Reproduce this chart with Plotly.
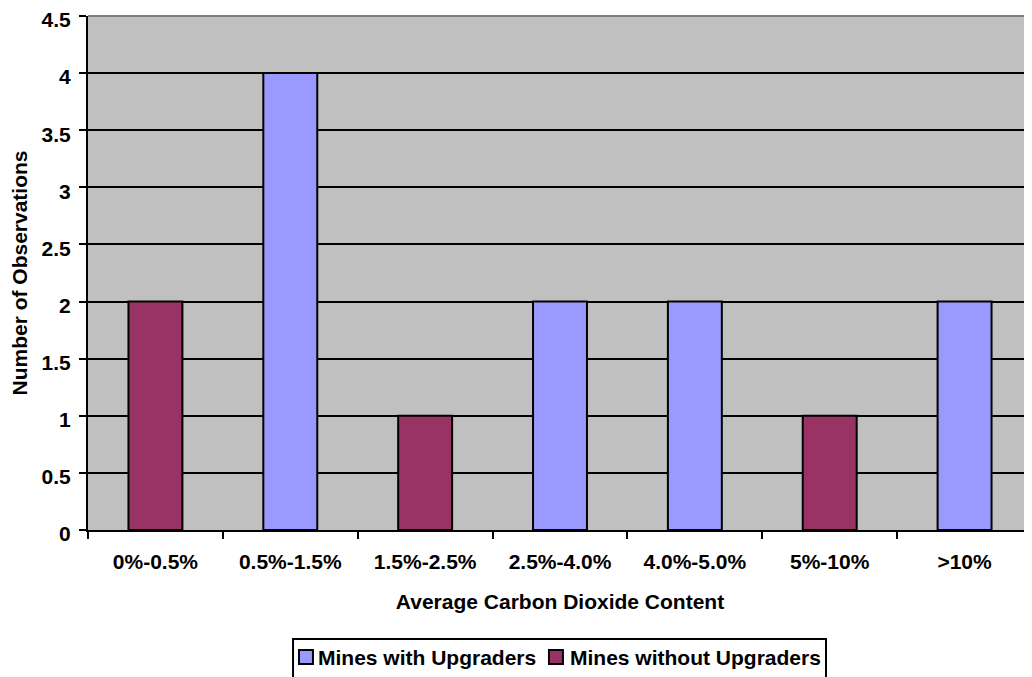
import plotly.graph_objects as go

categories = ["0%-0.5%", "0.5%-1.5%", "1.5%-2.5%", "2.5%-4.0%", "4.0%-5.0%", "5%-10%", ">10%"]
series_names = ["Mines with Upgraders", "Mines without Upgraders"]
with_upgraders = [None, 4, None, 2, 2, None, 2]
without_upgraders = [2, None, 1, None, None, 1, None]
series_colors = ["#9999FF", "#993366"]

FAM = "Liberation Sans, Arial, sans-serif"
SZ = 21

fig = go.Figure()
for name, vals, col in zip(series_names, [with_upgraders, without_upgraders], series_colors):
    fig.add_trace(go.Bar(x=categories, y=vals, name=name, showlegend=False,
                         marker=dict(color=col, line=dict(color="black", width=2)), width=0.4))

# page body has an 8px default margin, so the figure is offset by 8px
fig.update_layout(
    width=1024, height=669,
    margin=dict(l=80, r=0, t=8, b=147),
    paper_bgcolor="white", plot_bgcolor="#C0C0C0",
    barmode="overlay",
    font=dict(family=FAM, size=SZ, color="black"),
    showlegend=False,
    xaxis=dict(type="category", tickson="boundaries", ticks="outside", ticklen=7, tickwidth=2,
               tickcolor="black", showline=True, linecolor="black", linewidth=2,
               showgrid=False, automargin=False, ticklabelstandoff=12,
               tickfont=dict(size=SZ, family=FAM, weight="bold"),
               title=dict(text="<b>Average Carbon Dioxide Content</b>", standoff=22,
                          font=dict(size=SZ)), range=[-0.5, 6.5]),
    yaxis=dict(range=[0, 4.5], dtick=0.5, tickformat="~g", ticks="outside", ticklen=7, tickwidth=2,
               tickcolor="black", showline=True, linecolor="black", linewidth=2,
               showgrid=True, gridcolor="black", gridwidth=2, zeroline=False,
               automargin=False, ticklabelstandoff=4, ticklabeloverflow="allow",
               ticklabelshift=4,
               tickfont=dict(size=SZ, family=FAM, weight="bold"),
               title=dict(text="<b>Number of Observations</b>", standoff=13, font=dict(size=SZ))),
)
fig.add_shape(type="line", xref="paper", yref="paper", x0=0, x1=1, y0=1, y1=1,
              line=dict(color="#808080", width=2), layer="above")

# legend box (Excel style, below the axis title)
fig.add_shape(type="rect", xref="paper", yref="paper", x0=0.2172, x1=0.7818, y0=-0.2121, y1=-0.34,
              line=dict(color="black", width=2), fillcolor="white", layer="above")
legend_swatch_x = [0.2235, 0.4883]
legend_text_x = [0.2426, 0.5095]
for name, col, sx, tx in zip(series_names, series_colors, legend_swatch_x, legend_text_x):
    fig.add_shape(type="rect", xref="paper", yref="paper", x0=sx, x1=sx + 0.0148,
                  y0=-0.2335, y1=-0.2607, fillcolor=col, line=dict(color="black", width=2),
                  layer="above")
    fig.add_annotation(xref="paper", yref="paper", x=tx, y=-0.2471, xanchor="left", yanchor="middle",
                       text=f"<b>{name}</b>", showarrow=False, borderpad=0,
                       font=dict(size=SZ, family=FAM, color="black"))

fig.write_html("out.html")
